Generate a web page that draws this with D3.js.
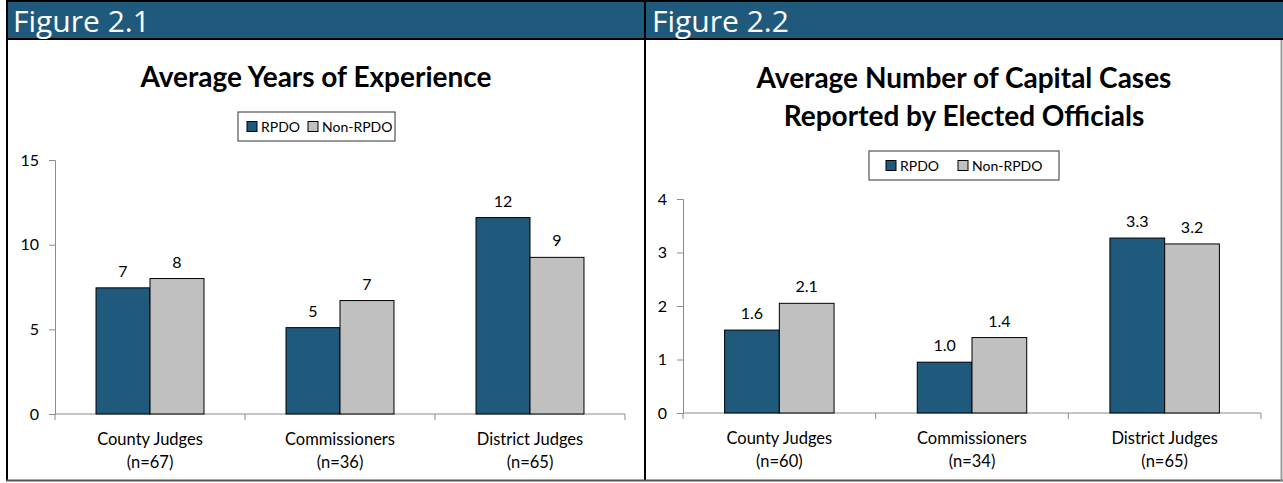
<!DOCTYPE html>
<html>
<head>
<meta charset="utf-8">
<script src="https://cdn.jsdelivr.net/npm/d3@7"></script>
<style>
  body { margin: 0; background: #fff; }
  svg { display: block; }
  text { font-family: Lato, "Open Sans", sans-serif; }
</style>
</head>
<body>
<svg id="canvas" width="1283" height="483"></svg>
<script>
// data
let categories = ["County Judges", "Commissioners", "District Judges"]
let seriesNames = ["RPDO", "Non-RPDO"]

let yearsCounts = ["(n=67)", "(n=36)", "(n=65)"]
let yearsRpdo = [7.45, 5.1, 11.6]
let yearsNonRpdo = [8.0, 6.7, 9.25]
let yearsLabelsRpdo = ["7", "5", "12"]
let yearsLabelsNon = ["8", "7", "9"]
let yearsTicks = [0, 5, 10, 15]

let casesCounts = ["(n=60)", "(n=34)", "(n=65)"]
let casesRpdo = [1.55, 0.95, 3.27]
let casesNonRpdo = [2.05, 1.41, 3.16]
let casesLabelsRpdo = ["1.6", "1.0", "3.3"]
let casesLabelsNon = ["2.1", "1.4", "3.2"]
let casesTicks = [0, 1, 2, 3, 4]

let blue = "#1f5a7d"
let grey = "#c0c0c0"
let axisGrey = "#8c8c8c"

let canvas = d3.select("#canvas")

// header band and panel frames
canvas.append("rect").attr("x", 6).attr("y", 1).attr("width", 1277).attr("height", 38)
  .attr("fill", blue)
canvas.append("line").attr("x1", 6).attr("x2", 1283).attr("y1", 1).attr("y2", 1)
  .attr("stroke", "#000").attr("stroke-width", 2)
canvas.append("line").attr("x1", 6).attr("x2", 1283).attr("y1", 39).attr("y2", 39)
  .attr("stroke", "#000").attr("stroke-width", 2)
canvas.append("line").attr("x1", 7).attr("x2", 7).attr("y1", 0).attr("y2", 481)
  .attr("stroke", "#000").attr("stroke-width", 2)
canvas.append("line").attr("x1", 645).attr("x2", 645).attr("y1", 0).attr("y2", 481)
  .attr("stroke", "#000").attr("stroke-width", 2)
canvas.append("line").attr("x1", 6).attr("x2", 1283).attr("y1", 480.5).attr("y2", 480.5)
  .attr("stroke", "#555").attr("stroke-width", 2)
canvas.append("line").attr("x1", 1281.5).attr("x2", 1281.5).attr("y1", 40).attr("y2", 481)
  .attr("stroke", "#999").attr("stroke-width", 2)

canvas.append("text").attr("x", 13).attr("y", 32).text("Figure 2.1")
  .attr("fill", "#fff").style("font-family", "'Open Sans', sans-serif").style("font-size", "30px")
  .style("font-weight", "500")
canvas.append("text").attr("x", 652).attr("y", 32).text("Figure 2.2")
  .attr("fill", "#fff").style("font-family", "'Open Sans', sans-serif").style("font-size", "30px")
  .style("font-weight", "500")

let drawChart = (opt) => {
  let g = canvas.append("g")

  let x0 = d3.scaleBand().domain(categories).range([opt.left, opt.right]).paddingInner(0).paddingOuter(0)
  let x1 = d3.scaleBand().domain(seriesNames).range([0, x0.bandwidth()]).paddingOuter(0.76).paddingInner(0)
  let y = d3.scaleLinear().domain([0, opt.ticks[opt.ticks.length - 1]]).range([opt.bottom, opt.top])

  // title
  let title = g.append("text").attr("text-anchor", "middle")
    .style("font-size", "28px").style("font-weight", "bold")
  opt.title.forEach((t, i) => {
    title.append("tspan").attr("x", opt.titleX).attr("y", opt.titleY + i * 38).text(t)
  })

  // legend
  let lg = g.append("g").attr("transform", `translate(${opt.legX},${opt.legY})`)
  lg.append("rect").attr("width", opt.legW).attr("height", 29)
    .attr("fill", "#fff").attr("stroke", "#333").attr("stroke-width", 1)
  seriesNames.forEach((s, i) => {
    lg.append("rect").attr("x", opt.legOffsets[i]).attr("y", 9.5).attr("width", 10).attr("height", 10)
      .attr("fill", i == 0 ? blue : grey).attr("stroke", "#000").attr("stroke-width", 1)
    lg.append("text").attr("x", opt.legOffsets[i] + 14).attr("y", 20).text(s)
      .style("font-size", "14px").attr("fill", "#000")
  })

  // y axis
  let yAxis = g.append("g").attr("transform", `translate(${opt.left},0)`)
    .call(d3.axisLeft(y).tickValues(opt.ticks).tickSize(6).tickPadding(10).tickFormat(d3.format("d")))
  yAxis.select(".domain").attr("stroke", axisGrey)
  yAxis.selectAll(".tick line").attr("stroke", axisGrey)
  yAxis.selectAll(".tick text").style("font-size", "16px").attr("fill", "#000")
    .style("font-family", "Lato, 'Open Sans', sans-serif")

  // x axis
  let xAxis = g.append("g").attr("transform", `translate(0,${opt.bottom})`)
  xAxis.append("line").attr("x1", opt.left).attr("x2", opt.right).attr("y1", 0).attr("y2", 0)
    .attr("stroke", axisGrey)
  let bounds = categories.map(c => x0(c)).concat([opt.right])
  xAxis.selectAll(".xt").data(bounds).enter().append("line")
    .attr("x1", d => d).attr("x2", d => d).attr("y1", 0).attr("y2", 6).attr("stroke", axisGrey)
  categories.forEach((c, i) => {
    let cx = x0(c) + x0.bandwidth() / 2
    xAxis.append("text").attr("x", cx).attr("y", 31).attr("text-anchor", "middle")
      .style("font-size", "16.5px").text(c)
    xAxis.append("text").attr("x", cx).attr("y", 54).attr("text-anchor", "middle")
      .style("font-size", "16.5px").text(opt.counts[i])
  })

  // bars
  let rows = categories.map((c, i) => ({
    cat: c,
    vals: [
      { s: seriesNames[0], v: opt.rpdo[i], lab: opt.labRpdo[i] },
      { s: seriesNames[1], v: opt.non[i], lab: opt.labNon[i] }
    ]
  }))
  let cg = g.selectAll(".cat").data(rows).enter().append("g")
    .attr("transform", d => `translate(${x0(d.cat)},0)`)
  cg.selectAll("rect").data(d => d.vals).enter().append("rect")
    .attr("x", d => x1(d.s))
    .attr("y", d => y(d.v))
    .attr("width", x1.bandwidth())
    .attr("height", d => opt.bottom - y(d.v))
    .attr("fill", (d, i) => i == 0 ? blue : grey)
    .attr("stroke", "#000").attr("stroke-width", 1)
  cg.selectAll("text").data(d => d.vals).enter().append("text")
    .attr("x", d => x1(d.s) + x1.bandwidth() / 2)
    .attr("y", d => y(d.v) - 11)
    .attr("text-anchor", "middle")
    .style("font-size", "16px")
    .text(d => d.lab)
}

drawChart({
  left: 55, right: 625, top: 160, bottom: 414,
  ticks: yearsTicks, counts: yearsCounts,
  rpdo: yearsRpdo, non: yearsNonRpdo, labRpdo: yearsLabelsRpdo, labNon: yearsLabelsNon,
  title: ["Average Years of Experience"], titleX: 316, titleY: 87,
  legX: 238, legY: 112, legW: 157, legOffsets: [9, 70]
})

drawChart({
  left: 683, right: 1261, top: 199, bottom: 413,
  ticks: casesTicks, counts: casesCounts,
  rpdo: casesRpdo, non: casesNonRpdo, labRpdo: casesLabelsRpdo, labNon: casesLabelsNon,
  title: ["Average Number of Capital Cases", "Reported by Elected Officials"], titleX: 964, titleY: 88,
  legX: 869, legY: 151, legW: 190, legOffsets: [17, 89]
})
</script>
</body>
</html>
